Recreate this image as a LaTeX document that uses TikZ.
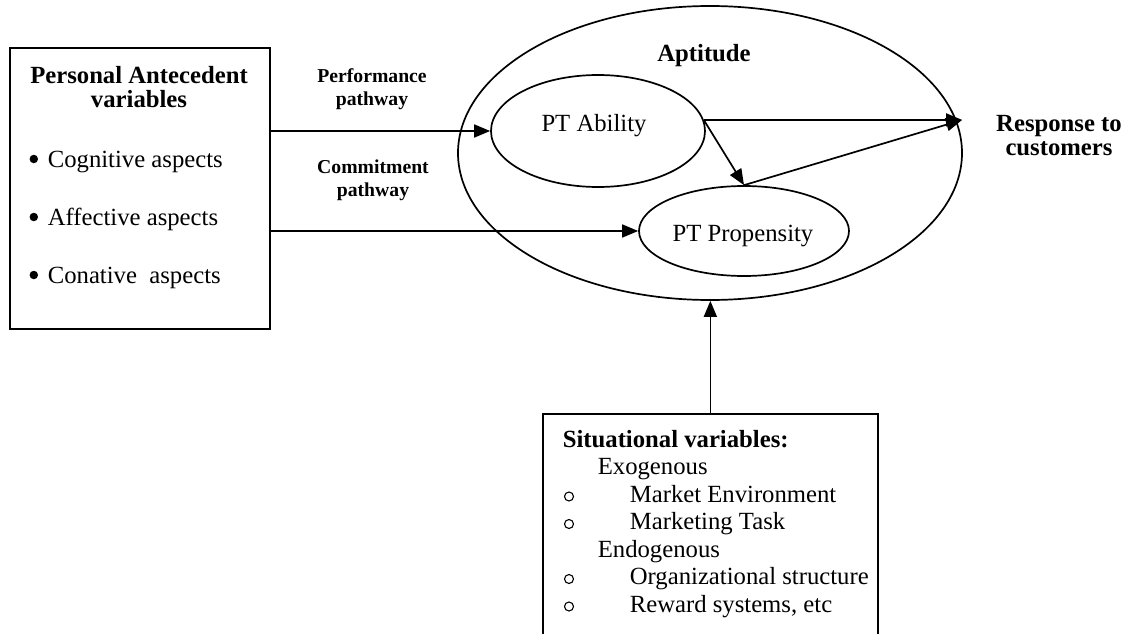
\documentclass[tikz,border=0pt]{standalone}
\usepackage{fontspec}
\setmainfont{Liberation Serif}
\usetikzlibrary{arrows.meta,shapes.geometric}

\begin{document}
\begin{tikzpicture}[x=1pt,y=-1pt,
  line width=1.7pt,
  txt/.style={inner sep=0pt, anchor=base, font=\fontsize{24.7}{27}\selectfont},
  txtw/.style={txt, anchor=base west},
  btxt/.style={inner sep=0pt, anchor=base, font=\fontsize{24.7}{27}\selectfont\bfseries},
  lbl/.style={inner sep=0pt, anchor=base, font=\fontsize{19.7}{22}\selectfont\bfseries},
  oval/.style={draw, ellipse, inner sep=0pt},
  panel/.style={draw, rectangle, inner sep=0pt, anchor=north west},
  arr/.style={-{Triangle[length=16pt,width=13pt]}},
  dot/.style={circle, fill, inner sep=0pt, minimum size=8.5pt},
  ring/.style={circle, draw, line width=1.1pt, inner sep=0pt, minimum size=9pt},
]
\useasboundingbox (0,0) rectangle (1127,634);
\clip (0,0) rectangle (1127,634);

% left panel: personal antecedents
\node[panel, minimum width=260pt, minimum height=281pt] (pav) at (9,47) {};
\node[btxt] (pavt1) at (139,83) {Personal Antecedent};
\node[btxt] (pavt2) at (139,107) {variables};
\node[dot] (b1) at (33.8,159) {};
\node[txtw] (cog) at (47,167) {Cognitive aspects};
\node[dot] (b2) at (33.8,217) {};
\node[txtw] (aff) at (47,225) {Affective aspects};
\node[dot] (b3) at (33.8,275) {};
\node[txtw] (con) at (47,283) {Conative\ \ aspects};

% aptitude ellipse and its two components
\node[oval, minimum width=504pt, minimum height=294pt] (apt) at (710,153) {};
\node[btxt] (aptt) at (704,62) {Aptitude};
\node[oval, minimum width=214pt, minimum height=112pt] (abil) at (598,131) {};
\node[txt] (abilt) at (594,131) {PT Ability};
\node[oval, minimum width=210pt, minimum height=90pt] (prop) at (744,231) {};
\node[txt] (propt) at (743,241) {PT Propensity};

% pathway labels
\node[lbl] (perf1) at (372,82) {Performance};
\node[lbl] (perf2) at (372,105) {pathway};
\node[lbl] (comm1) at (373,173) {Commitment};
\node[lbl] (comm2) at (373,196) {pathway};

% outcome
\coordinate (hub) at (962,120);
\node[btxt] (resp1) at (1059,131) {Response to};
\node[btxt] (resp2) at (1059,155) {customers};

% situational panel (runs off the lower edge)
\node[panel, minimum width=335pt, minimum height=260pt] (sit) at (542,413) {};
\node[btxt, anchor=base west] (sitt) at (562,447) {Situational variables:};
\node[txtw] (exo) at (597,474.5) {Exogenous};
\node[ring] (o1) at (569,496.5) {};
\node[txtw] (mkt) at (629,502) {Market Environment};
\node[ring] (o2) at (569,524) {};
\node[txtw] (task) at (629,529.5) {Marketing Task};
\node[txtw] (endo) at (597,557) {Endogenous};
\node[ring] (o3) at (569,579) {};
\node[txtw] (org) at (629,584.5) {Organizational structure};
\node[ring] (o4) at (569,606.5) {};
\node[txtw] (rew) at (629,612) {Reward systems, etc};

% connectors
\draw[arr] (pav.east |- abil.west) -- (abil.west);
\draw[arr] (pav.east |- prop.west) -- (prop.west);
\draw[arr] (abil.6) -- (abil.6 -| hub);
\draw[arr] (abil.6) -- (prop.north);
\draw[arr] (prop.north) -- (hub);
\draw[arr] (sit.north) -- (sit.north |- apt.south);
\end{tikzpicture}
\end{document}
